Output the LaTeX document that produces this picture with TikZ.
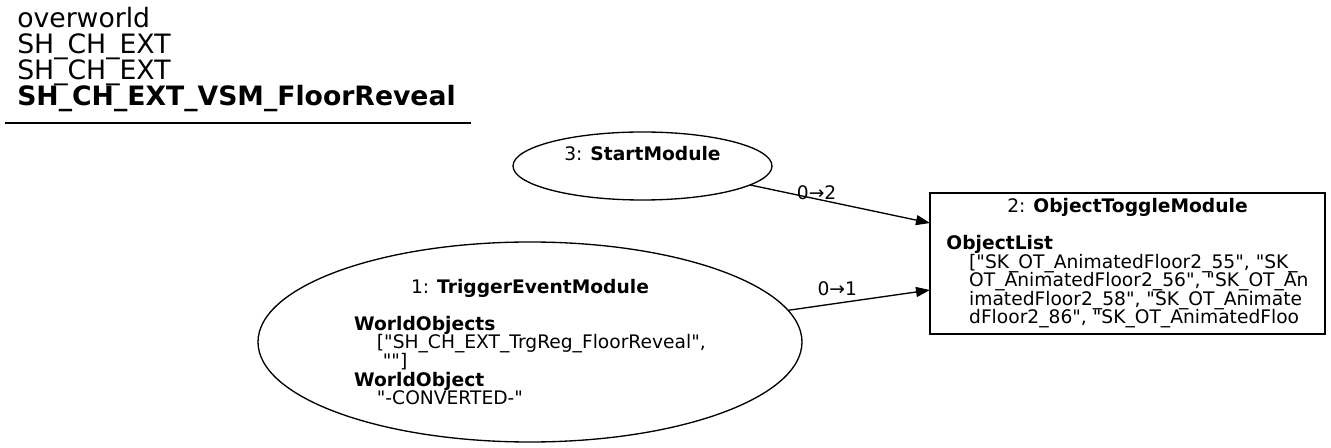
\documentclass[tikz,border=0pt]{standalone}
\usepackage{fontspec}
\setmainfont{DejaVu Sans}[Ligatures=TeXOff]
\usepackage{tikz}
\usetikzlibrary{shapes.geometric, arrows.meta, calc}

% rows of a node label, one per \cr
\newcommand{\modlines}[1]{\vbox{\lineskiplimit=-\maxdimen\halign{##\hfil\cr #1\crcr}}}
\newcommand{\modhead}[1]{\omit\hfil#1\hfil}

\begin{document}
\begin{tikzpicture}[
        x=0.75pt, y=-0.75pt,
        every node/.style={font=\fontsize{14}{13.9}\selectfont},
        oval/.style={draw, ellipse, inner sep=0pt, outer sep=0pt, line width=1pt},
        block/.style={draw, rectangle, inner sep=0pt, outer sep=0pt, line width=1pt},
        link/.style={-{Triangle[length=10.5pt, width=7.5pt]}, line width=1pt},
        tag/.style={anchor=base, inner sep=0pt}
    ]
        \useasboundingbox (0,0) rectangle (1331,448);

        % Title
        \node[anchor=base west, inner sep=0pt, font=\fontsize{20}{19.5}\selectfont] (title) at (17,106)
            {\modlines{overworld\cr SH\_CH\_EXT\cr SH\_CH\_EXT\cr \textbf{SH\_CH\_EXT\_VSM\_FloorReveal}}};
        \draw[line width=1pt] (5,123) -- (471,123);

        % Nodes
        \node[oval, minimum width=194.25pt, minimum height=51pt] (start) at (642.5,166)
            {\modlines{\modhead{3: \textbf{StartModule}}\cr \vrule width0pt depth5pt}};
        \node[oval, minimum width=408pt, minimum height=150pt] (trigger) at (530,342)
            {\modlines{\modhead{1: \textbf{TriggerEventModule}}\cr
            \cr
            \textbf{WorldObjects}\cr
            \hskip17pt["SH\_CH\_EXT\_TrgReg\_FloorReveal",\cr
            \hskip17pt\ ""]\cr
            \textbf{WorldObject}\cr
            \hskip17pt"-CONVERTED-"}};
        \node[block, minimum width=296.25pt, minimum height=105.75pt] (toggle) at (1127.5,263.5)
            {\modlines{\modhead{2: \textbf{ObjectToggleModule}}\cr
            \cr
            \textbf{ObjectList}\cr
            \hskip17pt["SK\_OT\_AnimatedFloor2\_55", "SK\_\cr
            \hskip17pt OT\_AnimatedFloor2\_56", "SK\_OT\_An\cr
            \hskip17pt imatedFloor2\_58", "SK\_OT\_Animate\cr
            \hskip17pt dFloor2\_86", "SK\_OT\_AnimatedFloo}};

        % Links
        \draw[link] (start.-10.5) -- node[tag, pos=0.37] {0→2}
            ($(toggle.north west)!0.213!(toggle.south west)$);
        \draw[link] (trigger.7.6) -- node[tag, pos=0.347, yshift=6pt] {0→1}
            ($(toggle.north west)!0.688!(toggle.south west)$);
    \end{tikzpicture}
\end{document}
